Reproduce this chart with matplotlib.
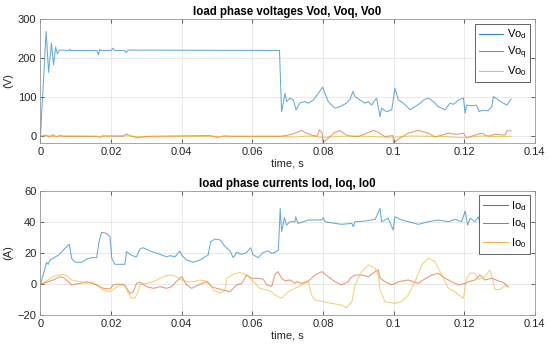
import numpy as np
import matplotlib
matplotlib.use('Agg')
import matplotlib.pyplot as plt

plt.rcParams['font.family'] = ['Liberation Sans', 'DejaVu Sans']
plt.rcParams['mathtext.default'] = 'regular'

# ---- top panel: load phase voltages ----
t_vod = [0, 0.0016, 0.0023, 0.0031, 0.0037, 0.0043, 0.0048, 0.0053, 0.0080, 0.0083, 0.0086,
         0.0160, 0.0164, 0.0168, 0.0172, 0.0200, 0.0205, 0.0210, 0.0238, 0.0243, 0.0248,
         0.0677, 0.0683, 0.0693, 0.0697, 0.0707, 0.0716, 0.0724, 0.0735, 0.0749, 0.0759,
         0.0773, 0.0787, 0.0799, 0.0815, 0.0834, 0.0848, 0.0867, 0.0877, 0.0885, 0.0891,
         0.0905, 0.0919, 0.0929, 0.0938, 0.0952, 0.0962, 0.0966, 0.0980, 0.0995, 0.1004,
         0.1014, 0.1028, 0.1047, 0.1061, 0.1076, 0.1085, 0.1099, 0.1113, 0.1127, 0.1146,
         0.1160, 0.1170, 0.1184, 0.1198, 0.1203, 0.1207, 0.1221, 0.1235, 0.1243, 0.1249,
         0.1268, 0.1278, 0.1283, 0.1297, 0.1311, 0.1321, 0.1333]
vod = [0, 269, 164, 239, 183, 229, 211, 221, 220, 223, 220,
       220, 209, 223, 220, 220, 226, 220, 220, 214, 221,
       220, 63, 110, 89, 98, 93, 68, 86, 89, 85,
       93, 110, 126, 89, 72, 76, 85, 95, 115, 102,
       93, 85, 89, 80, 98, 50, 72, 63, 68, 123,
       93, 85, 68, 76, 85, 93, 98, 89, 76, 68,
       85, 82, 93, 98, 59, 80, 78, 80, 63, 66,
       66, 75, 102, 93, 85, 80, 95]

t_voq = [0, 0.0015, 0.0025, 0.0035, 0.0045, 0.0055, 0.0065, 0.0160, 0.0168, 0.0175, 0.0235,
         0.0243, 0.0255, 0.0275, 0.0285, 0.0300, 0.0480, 0.0500, 0.0520, 0.0540, 0.0680,
         0.0702, 0.0721, 0.0740, 0.0749, 0.0768, 0.0784, 0.0790, 0.0798, 0.0800, 0.0815,
         0.0834, 0.0848, 0.0867, 0.0881, 0.0900, 0.0924, 0.0943, 0.0957, 0.0976, 0.0998,
         0.1000, 0.1017, 0.1042, 0.1070, 0.1099, 0.1117, 0.1137, 0.1155, 0.1179, 0.1198,
         0.1207, 0.1231, 0.1250, 0.1268, 0.1287, 0.1316, 0.1321, 0.1333]
voq = [0, 3, -2, 4, -1, 2, 0, 0, -3, 1, 0,
       6, 1, -4, -2, 0, 2, -3, 1, 0, 0,
       3, 8, 15, 10, 3, 0, 17, 8, -17, -5,
       10, 15, 3, 0, -1, 8, 15, 10, -1, 2,
       -17, -5, 8, 15, 8, -2, 3, 8, 5, 8,
       -4, 3, 8, 0, 5, 3, 14, 14]

t_vo0 = [0, 0.0020, 0.0040, 0.0060, 0.0170, 0.0240, 0.0290, 0.0500, 0.0680, 0.0720,
         0.0760, 0.0800, 0.0850, 0.0900, 0.0950, 0.1000, 0.1050, 0.1100, 0.1150, 0.1200,
         0.1250, 0.1300, 0.1333]
vo0 = [0, 2, -1, 1, 0, 2, -2, 0, 0, -2, 1, -3, 0, 1, -1, -3, 1, 0, -1, -4, 1, -1, 0]

# ---- bottom panel: load phase currents ----
t_iod = [0, 0.0013, 0.0017, 0.0022, 0.0027, 0.0036, 0.0051, 0.0065, 0.0079, 0.0082, 0.0088,
         0.0098, 0.0117, 0.0131, 0.0145, 0.0159, 0.0166, 0.0173, 0.0187, 0.0197, 0.0202,
         0.0211, 0.0239, 0.0244, 0.0254, 0.0268, 0.0272, 0.0282, 0.0291, 0.0310, 0.0339,
         0.0357, 0.0367, 0.0381, 0.0395, 0.0400, 0.0414, 0.0433, 0.0452, 0.0475, 0.0482,
         0.0494, 0.0509, 0.0523, 0.0537, 0.0546, 0.0556, 0.0570, 0.0584, 0.0595, 0.0603,
         0.0617, 0.0631, 0.0645, 0.0655, 0.0664, 0.0674, 0.0679, 0.0683, 0.0691, 0.0697,
         0.0707, 0.0721, 0.0723, 0.0729, 0.0740, 0.0759, 0.0797, 0.0801, 0.0806, 0.0834,
         0.0853, 0.0882, 0.0886, 0.0891, 0.0919, 0.0948, 0.0962, 0.0966, 0.0985, 0.0999,
         0.1004, 0.1023, 0.1042, 0.1070, 0.1099, 0.1127, 0.1155, 0.1174, 0.1193, 0.1203,
         0.1210, 0.1217, 0.1231, 0.1240, 0.1245, 0.1259, 0.1273, 0.1290, 0.1305, 0.1320,
         0.1333]
iod = [0, 10.1, 14.0, 12.7, 15.5, 16.6, 18.7, 21.9, 25.2, 25.6, 16.6,
       14.0, 14.0, 16.1, 17.0, 17.0, 27.3, 33.3, 32.7, 30.5, 16.6,
       12.7, 12.7, 20.9, 19.1, 17.6, 17.6, 22.6, 23.4, 21.3, 19.1,
       17.6, 18.3, 17.6, 21.3, 18.7, 15.5, 14.0, 15.5, 18.7, 27.3,
       29.0, 28.4, 24.1, 21.3, 17.0, 20.4, 19.1, 20.4, 23.4, 18.7,
       17.0, 20.4, 21.3, 19.8, 20.4, 22.0, 48.8, 33.8, 42.8, 38.0,
       40.2, 40.2, 43.4, 39.1, 39.8, 41.3, 41.3, 42.8, 40.2, 39.1,
       38.5, 39.1, 37.0, 40.2, 40.6, 41.7, 48.8, 40.2, 42.4, 34.8,
       43.4, 41.3, 40.2, 38.5, 40.2, 41.3, 40.2, 41.7, 40.2, 47.1,
       38.0, 42.4, 40.2, 43.4, 39.1, 39.1, 40.2, 40.0, 39.5, 40.5,
       40.0]

t_ioq = [0, 0.0017, 0.0036, 0.0055, 0.0065, 0.0079, 0.0088, 0.0112, 0.0131, 0.0145, 0.0159,
         0.0178, 0.0197, 0.0206, 0.0216, 0.0235, 0.0244, 0.0254, 0.0263, 0.0272, 0.0282,
         0.0301, 0.0320, 0.0339, 0.0357, 0.0372, 0.0386, 0.0400, 0.0414, 0.0428, 0.0452,
         0.0471, 0.0485, 0.0499, 0.0518, 0.0537, 0.0546, 0.0556, 0.0570, 0.0584, 0.0598,
         0.0612, 0.0631, 0.0641, 0.0655, 0.0664, 0.0672, 0.0683, 0.0693, 0.0707, 0.0721,
         0.0726, 0.0740, 0.0759, 0.0778, 0.0797, 0.0815, 0.0834, 0.0853, 0.0872, 0.0877,
         0.0891, 0.0910, 0.0929, 0.0948, 0.0957, 0.0962, 0.0976, 0.0995, 0.1014, 0.1042,
         0.1070, 0.1084, 0.1108, 0.1127, 0.1146, 0.1165, 0.1184, 0.1203, 0.1212, 0.1231,
         0.1245, 0.1259, 0.1278, 0.1297, 0.1311, 0.1325]
ioq = [0, 1.1, 2.6, 4.7, 4.1, 1.5, -0.6, 0.4, 1.5, 0.4, -0.6,
       -2.8, -3.2, -0.6, -0.2, -0.2, -2.8, -6.0, -5.0, 0.4, 1.1,
       -1.7, -2.8, -1.7, -2.8, -1.7, 1.9, 4.7, -0.6, -2.8, -0.2,
       1.5, -1.7, -2.8, -3.9, -5.0, -2.8, -0.6, 0.4, 5.8, 3.7,
       3.7, 3.2, -0.6, -1.5, 6.0, 8.0, 3.7, 2.0, 2.6, 0.4,
       1.5, 0.4, 1.9, 5.8, 8.0, 4.7, 1.5, -0.6, 1.5, 3.7,
       5.8, 5.8, 4.7, 8.0, 9.1, 3.7, 1.5, -0.6, 1.5, 2.6,
       0.4, 2.6, 5.8, 6.9, 3.7, 1.5, -0.6, 0.4, 1.5, 2.6,
       5.8, 2.6, 3.7, 2.0, 1.0, -1.7]

t_io0 = [0, 0.0017, 0.0036, 0.0051, 0.0065, 0.0079, 0.0088, 0.0112, 0.0131, 0.0145, 0.0159,
         0.0178, 0.0197, 0.0211, 0.0225, 0.0239, 0.0249, 0.0258, 0.0268, 0.0277, 0.0282,
         0.0301, 0.0320, 0.0339, 0.0357, 0.0372, 0.0386, 0.0400, 0.0414, 0.0433, 0.0452,
         0.0475, 0.0490, 0.0509, 0.0523, 0.0527, 0.0546, 0.0565, 0.0584, 0.0603, 0.0622,
         0.0641, 0.0655, 0.0664, 0.0683, 0.0702, 0.0740, 0.0759, 0.0768, 0.0778, 0.0801,
         0.0825, 0.0853, 0.0867, 0.0882, 0.0891, 0.0910, 0.0929, 0.0948, 0.0957, 0.0962,
         0.0976, 0.1004, 0.1023, 0.1042, 0.1061, 0.1080, 0.1099, 0.1117, 0.1137, 0.1155,
         0.1174, 0.1183, 0.1198, 0.1207, 0.1217, 0.1231, 0.1240, 0.1259, 0.1273, 0.1280,
         0.1287, 0.1302, 0.1316, 0.1325]
io0 = [0, 1.9, 4.7, 5.8, 6.2, 4.7, 2.6, 1.5, 0.4, 1.5, -0.6,
       -3.9, -5.0, -2.8, -0.6, -0.6, -6.0, -9.3, -8.8, -5.0, -0.6,
       0.4, 1.5, 3.7, 5.4, 5.8, 4.7, 2.6, 1.5, 1.5, 2.6,
       1.5, -3.9, -6.0, -3.9, 3.7, 6.2, 7.5, 5.8, 1.5, -2.8,
       -3.9, -5.0, -7.1, -9.3, -5.0, -0.6, 1.5, -7.1, -10.3, -11.4,
       -12.5, -13.6, -15.3, -11.4, -0.6, 8.0, 12.3, 10.1, 5.8, -3.9,
       -11.4, -12.5, -11.4, -7.1, 1.5, 12.3, 16.6, 14.5, 5.8, -2.8,
       -5.0, -6.8, -9.3, 3.9, 7.0, 7.0, 2.8, 5.0, 9.0, 4.0,
       -3.5, -3.5, -1.0, -2.0]

c_blue = '#0072BD'
c_orange = '#D95319'
c_yellow = '#EDB120'
grid_c = '#e6e6e6'
axis_c = '#262626'
fs = 8

fig = plt.figure(figsize=(5.5, 3.5), dpi=100)
ax1 = fig.add_axes([0.0736, 0.5923, 0.8986, 0.3526])
ax2 = fig.add_axes([0.0736, 0.1000, 0.8986, 0.3543])


def style(ax):
    ax.set_xlim(0, 0.14)
    ax.set_xticks(np.arange(0, 0.141, 0.02))
    ax.set_xticklabels(['0', '0.02', '0.04', '0.06', '0.08', '0.1', '0.12', '0.14'])
    ax.grid(True, color=grid_c, linewidth=0.6)
    ax.set_axisbelow(True)
    ax.tick_params(direction='in', length=3, width=0.5, colors=axis_c, labelsize=fs,
                   top=True, right=True, labeltop=False, labelright=False, pad=3)
    for s in ax.spines.values():
        s.set_color('#999999')
        s.set_linewidth(0.6)
    ax.set_xlabel('time, s', fontsize=fs, color=axis_c, labelpad=1)


lw = 0.75
al = 0.6
ax1.plot(t_vod, vod, color=c_blue, lw=lw, alpha=al, label='Vo$_d$')
ax1.plot(t_voq, voq, color=c_orange, lw=lw, alpha=al, label='Vo$_q$')
ax1.plot(t_vo0, vo0, color=c_yellow, lw=lw, alpha=al, label='Vo$_0$')
style(ax1)
ax1.set_ylim(-16.4, 300)
ax1.set_yticks([0, 100, 200, 300])
ax1.set_ylabel('(V)', fontsize=fs, color=axis_c, labelpad=3)
ax1.set_title('load phase voltages Vod, Voq, Vo0', fontsize=8.3, fontweight='bold', pad=3)

ax2.plot(t_iod, iod, color=c_blue, lw=lw, alpha=al, label='Io$_d$')
ax2.plot(t_ioq, ioq, color=c_orange, lw=lw, alpha=al, label='Io$_q$')
ax2.plot(t_io0, io0, color=c_yellow, lw=lw, alpha=al, label='Io$_0$')
style(ax2)
ax2.set_ylim(-20, 60)
ax2.set_yticks([-20, 0, 20, 40, 60])
ax2.set_ylabel('(A)', fontsize=fs, color=axis_c, labelpad=3)
ax2.set_title('load phase currents Iod, Ioq, Io0', fontsize=8.3, fontweight='bold', pad=3)

for ax in (ax1, ax2):
    leg = ax.legend(loc='upper right', fontsize=fs, fancybox=False, framealpha=1,
                    edgecolor=axis_c, handlelength=2.2, handletextpad=0.3,
                    borderaxespad=0.4, labelspacing=0.3, borderpad=0.35)
    leg.get_frame().set_linewidth(0.5)
    for ln in leg.get_lines():
        ln.set_alpha(0.85)

plt.savefig('out.png', dpi=100)
